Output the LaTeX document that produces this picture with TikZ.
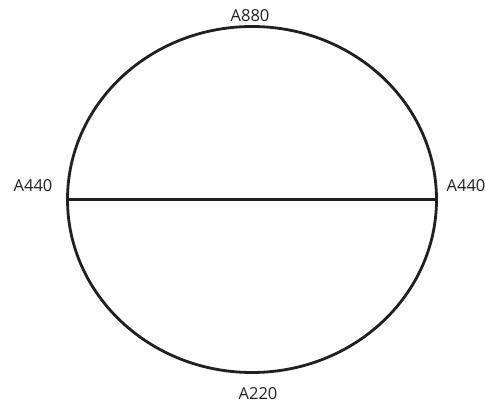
\documentclass[tikz,border=0pt]{standalone}
\usepackage{fontspec}
\setmainfont{Open Sans}
\definecolor{ink}{HTML}{231F20}
\begin{document}
\begin{tikzpicture}[x=1pt,y=-1pt, every node/.style={text=ink, font=\fontsize{16.5}{20}\selectfont}]
  \useasboundingbox (0,0) rectangle (485,406);

  \coordinate (O) at (252,199.5);
  \coordinate (L) at (67.5,199.5);
  \coordinate (R) at (436.5,199.5);

  % Ellipse
  \draw[line width=2.8pt, ink] (O) ellipse [x radius=184.5pt, y radius=173pt];

  % Diameter
  \draw[line width=2.8pt, ink] (L) -- (R);

  \node (top)    at (250,15.5)  {A880};
  \node (bottom) at (258,394)   {A220};
  \node (left)   at (33,185.5)  {A440};
  \node (right)  at (466,185.5) {A440};

\end{tikzpicture}
\end{document}
